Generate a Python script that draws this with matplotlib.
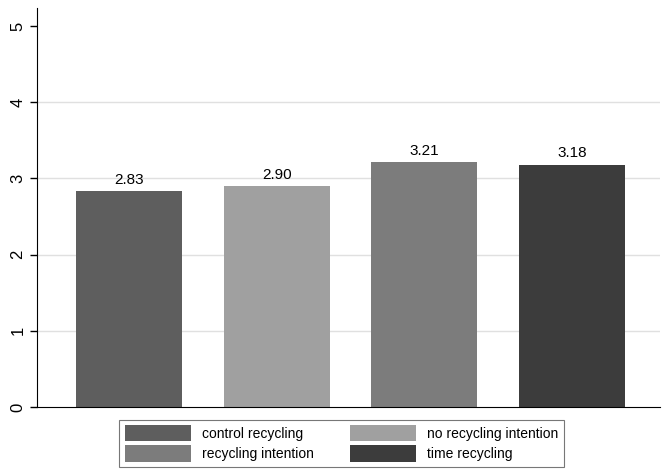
import numpy as np
import matplotlib.pyplot as plt

plt.rcParams['font.family'] = ['Liberation Sans', 'DejaVu Sans']

groups = ['control recycling', 'no recycling intention', 'recycling intention', 'time recycling']
means = [2.83, 2.90, 3.21, 3.18]
colors = ['#5e5e5e', '#a0a0a0', '#7c7c7c', '#3c3c3c']
yticks = [0, 1, 2, 3, 4, 5]
gridlines = [1, 2, 3, 4]

fig = plt.figure(figsize=(6.63, 4.75), dpi=100)
ax = fig.add_axes([0.056, 0.143, 0.94, 0.84])

x = np.arange(len(groups))
bars = ax.bar(x, means, width=0.72, color=colors, zorder=2)
for xi, m in zip(x, means):
    ax.text(xi, m + 0.06, '%.2f' % m, ha='center', va='bottom', fontsize=11)
for g in gridlines:
    ax.axhline(g, color='#e0e0e0', linewidth=1, zorder=0)

ax.set_xlim(-0.625, 3.6)
ax.set_ylim(0, 5.236)
ax.set_yticks(yticks)
ax.set_yticklabels([str(t) for t in yticks], rotation=90, va='center', fontsize=12)
ax.set_xticks([])
for s in ['top', 'right']:
    ax.spines[s].set_visible(False)
ax.tick_params(axis='y', length=5, width=1)

# row-major order like the original legend
order = [0, 2, 1, 3]
leg = fig.legend(handles=[bars[i] for i in order], labels=[groups[i] for i in order],
                 loc='center', ncol=2, bbox_to_anchor=(0.515, 0.0665), fontsize=10,
                 frameon=True, fancybox=False, edgecolor='#555555', handlelength=4.8,
                 handleheight=1.4, handletextpad=0.75, columnspacing=2.6,
                 borderpad=0.4, labelspacing=0.3, borderaxespad=0)
leg.get_frame().set_linewidth(0.8)

fig.savefig('out.png', dpi=100)
